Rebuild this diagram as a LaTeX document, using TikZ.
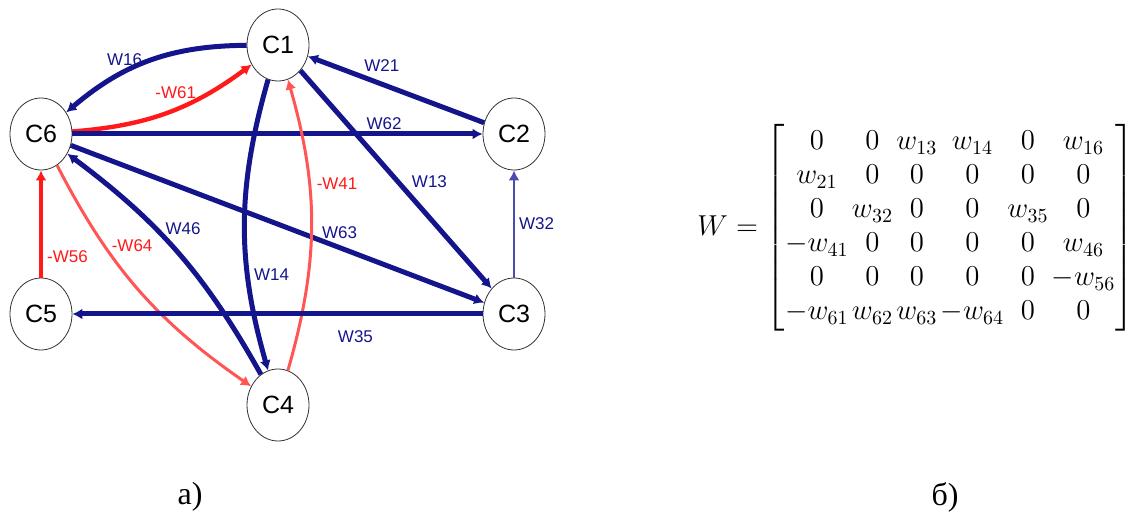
\documentclass[tikz,border=0pt]{standalone}
\usepackage{amsmath}
\usepackage{fontspec}
\setmainfont{Liberation Serif}
\newfontfamily\arialfont{Liberation Sans}
\usetikzlibrary{shapes.geometric}
\usetikzlibrary{arrows.meta}
\definecolor{navy}{RGB}{20,20,140}
\definecolor{softnavy}{RGB}{75,75,175}
\definecolor{hotred}{RGB}{255,25,25}
\definecolor{palered}{RGB}{255,85,85}

\begin{document}
\begin{tikzpicture}
      [
        x=0.5pt, y=0.5pt,
        concept/.style={ellipse,draw=black!80,thin,fill=white,
          minimum width=31pt,minimum height=36pt,inner sep=0pt,
          font=\arialfont\fontsize{12.5}{13}\selectfont},
        tip/.style={-{Latex[length=5pt,width=5.5pt]}},
        plus/.style={tip,draw=navy,line width=2.5pt},
        thinplus/.style={tip,draw=softnavy,line width=1.1pt},
        minus/.style={tip,draw=hotred,line width=2.2pt},
        paleminus/.style={tip,draw=palered,line width=1.5pt},
        wlab/.style={font=\arialfont\fontsize{8.5}{9}\selectfont,text=navy,inner sep=1pt},
        nlab/.style={wlab,text=hotred}
      ]

      \useasboundingbox (0,0) rectangle (1135,520);

      % concepts
      \node[concept] (C1) at (278,475) {C1};
      \node[concept] (C2) at (514,386) {C2};
      \node[concept] (C3) at (514,206) {C3};
      \node[concept] (C4) at (278,115) {C4};
      \node[concept] (C5) at (41,206) {C5};
      \node[concept] (C6) at (41,386) {C6};

      % links
      \draw (C1) edge[plus, bend right=20] node[wlab, pos=0.65, above=1pt] {W16} (C6);
      \draw (C6) edge[minus, bend right=16] node[nlab, pos=0.55, above=3pt] {-W61} (C1);
      \draw (C2) edge[plus] node[wlab, pos=0.58, above=4pt] {W21} (C1);
      \draw (C6) edge[plus] node[wlab, pos=0.76, above] {W62} (C2);
      \draw (C1) edge[plus] node[wlab, pos=0.56, above right] {W13} (C3);
      \draw (C6) edge[plus] node[wlab, pos=0.65, above=2pt] {W63} (C3);
      \draw (C4) edge[plus, bend right=12] node[wlab, pos=0.62, right=3pt] {W46} (C6);
      \draw (C6) edge[paleminus, bend right=14] node[nlab, pos=0.3, right=2pt] {-W64} (C4);
      \draw (C1) edge[plus, bend right=16] node[wlab, pos=0.68, right=1pt] {W14} (C4);
      \draw (C4) edge[paleminus, bend right=16] node[nlab, pos=0.65, right=2pt] {-W41} (C1);
      \draw (C3) edge[thinplus] node[wlab, right=1pt] {W32} (C2);
      \draw (C3) edge[plus] node[wlab, pos=0.31, below=6pt] {W35} (C5);
      \draw (C5) edge[minus] node[nlab, pos=0.2, right=1pt] {-W56} (C6);

      % matrix
      \node (Wmat) at (916,292) {\fontsize{14}{17}\selectfont
        \setlength{\arraycolsep}{0.8pt}%
        $W=\begin{bmatrix}
          0 & 0 & w_{13} & w_{14} & 0 & w_{16}\\
          w_{21} & 0 & 0 & 0 & 0 & 0\\
          0 & w_{32} & 0 & 0 & w_{35} & 0\\
          -w_{41} & 0 & 0 & 0 & 0 & w_{46}\\
          0 & 0 & 0 & 0 & 0 & -w_{56}\\
          -w_{61} & w_{62} & w_{63} & -w_{64} & 0 & 0
        \end{bmatrix}$};

      % captions
      \node[font=\fontsize{16}{19}\selectfont] (CapA) at (190,23) {а)};
      \node[font=\fontsize{16}{19}\selectfont] (CapB) at (945,23) {б)};
    \end{tikzpicture}
\end{document}
